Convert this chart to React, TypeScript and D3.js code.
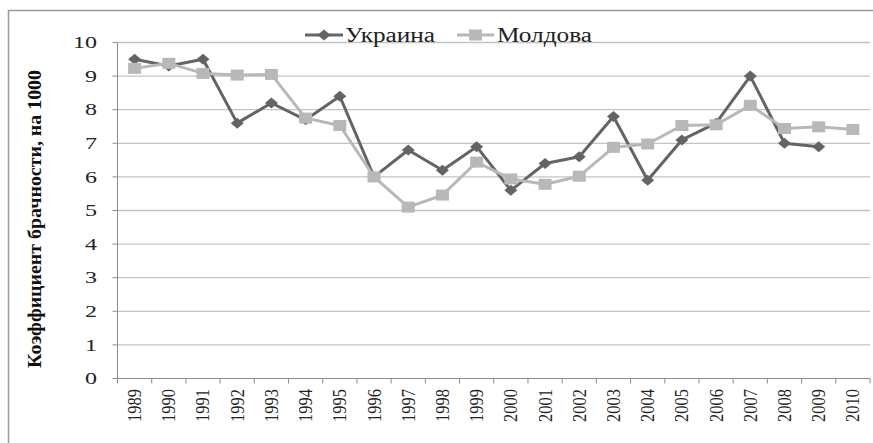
import { useMemo } from 'react';
import * as d3 from 'd3';

const years = [
  '1989', '1990', '1991', '1992', '1993', '1994', '1995', '1996', '1997', '1998', '1999',
  '2000', '2001', '2002', '2003', '2004', '2005', '2006', '2007', '2008', '2009', '2010',
];

const ukraine: (number | null)[] = [
  9.5, 9.3, 9.5, 7.6, 8.2, 7.7, 8.4, 6.0, 6.8, 6.2, 6.9,
  5.6, 6.4, 6.6, 7.8, 5.9, 7.1, 7.6, 9.0, 7.0, 6.9, null,
];

const moldova: (number | null)[] = [
  9.23, 9.38, 9.08, 9.03, 9.05, 7.75, 7.53, 6.0, 5.1, 5.46, 6.44,
  5.94, 5.78, 6.02, 6.88, 6.98, 7.53, 7.55, 8.13, 7.44, 7.49, 7.41,
];

const yTicks = [0, 1, 2, 3, 4, 5, 6, 7, 8, 9, 10];

const seriesNames = ['Украина', 'Молдова'];

const width = 873;
const height = 443;
const font = "'Liberation Serif'";

const darkColor = '#646464';
const lightColor = '#b8b8b8';

export default function App() {
  const x = useMemo(() => d3.scaleBand<string>().domain(years).range([117.5, 870]).padding(0), []);
  const y = useMemo(() => d3.scaleLinear().domain([0, 10]).range([378.5, 42.5]), []);

  const cx = (yr: string) => (x(yr) as number) + x.bandwidth() / 2;

  const lineGen = d3
    .line<number | null>()
    .defined((d) => d !== null)
    .x((_, i) => cx(years[i]))
    .y((d) => y(d as number));

  const diamond = (px: number, py: number) =>
    `M${px - 6.5},${py}L${px},${py - 5.5}L${px + 6.5},${py}L${px},${py + 5.5}Z`;

  const [plotLeft, plotRight] = x.range();

  return (
    <svg width={width} height={height} style={{ position: 'absolute', left: 0, top: 0, background: '#fff' }}>
      <rect x={8.5} y={10.5} width={width + 20} height={height + 20} fill="#fff" stroke="#9a9a9a" strokeWidth={1.5} />

      {/* gridlines */}
      {yTicks.slice(1).map((t) => (
        <line key={t} x1={plotLeft} x2={plotRight} y1={y(t)} y2={y(t)} stroke="#c4c4c4" strokeWidth={1.3} />
      ))}

      {/* y axis */}
      <line x1={plotLeft} x2={plotLeft} y1={y(10)} y2={y(0)} stroke="#8c8c8c" strokeWidth={1} />
      {yTicks.map((t) => (
        <g key={t}>
          <line x1={plotLeft - 5} x2={plotLeft} y1={y(t)} y2={y(t)} stroke="#8c8c8c" strokeWidth={1} />
          <text
            x={97}
            y={y(t)}
            dy="0.33em"
            textAnchor="end"
            style={{ fontFamily: font, fontSize: 17 }}
            fill="#222"
            textLength={t >= 10 ? 24 : 12}
            lengthAdjust="spacingAndGlyphs"
          >
            {t}
          </text>
        </g>
      ))}

      {/* x axis */}
      <line x1={plotLeft} x2={plotRight} y1={y(0)} y2={y(0)} stroke="#8c8c8c" strokeWidth={1} />
      {years.map((yr) => (
        <line
          key={'t' + yr}
          x1={x(yr) as number}
          x2={x(yr) as number}
          y1={y(0)}
          y2={y(0) + 5}
          stroke="#8c8c8c"
          strokeWidth={1}
        />
      ))}
      <line x1={plotRight} x2={plotRight} y1={y(0)} y2={y(0) + 5} stroke="#8c8c8c" strokeWidth={1} />
      {years.map((yr) => (
        <text
          key={'l' + yr}
          transform={`translate(${cx(yr)},${389}) rotate(-90)`}
          dy="0.34em"
          textAnchor="end"
          style={{ fontFamily: font, fontSize: 19 }}
          fill="#222"
          textLength={33}
          lengthAdjust="spacingAndGlyphs"
        >
          {yr}
        </text>
      ))}

      {/* y axis title */}
      <text
        transform={`translate(41,${219}) rotate(-90)`}
        textAnchor="middle"
        style={{ fontFamily: font, fontSize: 19, fontWeight: 'bold' }}
        fill="#111"
        textLength={298}
        lengthAdjust="spacingAndGlyphs"
      >
        Коэффициент брачности, на 1000
      </text>

      {/* series */}
      <path d={lineGen(ukraine) ?? ''} fill="none" stroke={darkColor} strokeWidth={3} strokeLinejoin="round" />
      {ukraine.map((v, i) =>
        v === null ? null : <path key={'u' + i} d={diamond(cx(years[i]), y(v))} fill={darkColor} />
      )}
      <path d={lineGen(moldova) ?? ''} fill="none" stroke={lightColor} strokeWidth={3} strokeLinejoin="round" />
      {moldova.map((v, i) =>
        v === null ? null : (
          <rect key={'m' + i} x={cx(years[i]) - 6.5} y={y(v) - 5.5} width={13} height={11} fill={lightColor} />
        )
      )}

      {/* legend */}
      <g>
        <line x1={305} x2={343} y1={35} y2={35} stroke={darkColor} strokeWidth={3} />
        <path d={diamond(324, 35)} fill={darkColor} />
        <text
          x={345}
          y={41.5}
          style={{ fontFamily: font, fontSize: 20 }}
          fill="#222"
          textLength={90}
          lengthAdjust="spacingAndGlyphs"
        >
          {seriesNames[0]}
        </text>
        <line x1={457} x2={494} y1={35} y2={35} stroke={lightColor} strokeWidth={3} />
        <rect x={469} y={29.5} width={13} height={11} fill={lightColor} />
        <text
          x={497}
          y={41.5}
          style={{ fontFamily: font, fontSize: 20 }}
          fill="#222"
          textLength={95}
          lengthAdjust="spacingAndGlyphs"
        >
          {seriesNames[1]}
        </text>
      </g>
    </svg>
  );
}
